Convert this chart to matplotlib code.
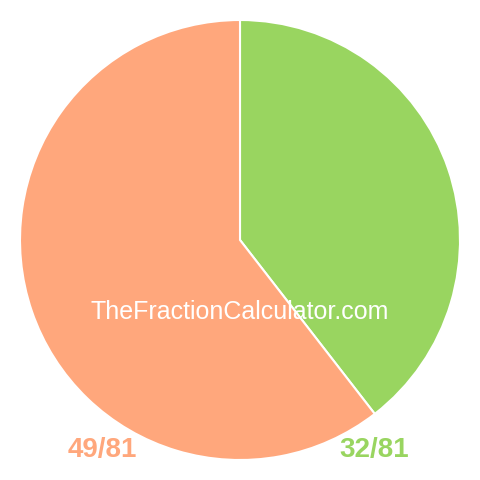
import matplotlib.pyplot as plt

# fractions shown in the pie
labels = ['32/81', '49/81']
values = [32, 49]
colors = ['#99d560', '#ffa77c']

fig = plt.figure(figsize=(4.8, 4.8), dpi=100)
ax = fig.add_axes([0, 0, 1, 1])

ax.pie(values, colors=colors, startangle=90, counterclock=False,
       center=(240, 240), radius=220, frame=True,
       wedgeprops={'edgecolor': 'white', 'linewidth': 1.5})
ax.set_aspect('equal')
ax.axis('off')
ax.set_xlim(0, 480)
ax.set_ylim(0, 480)

ax.text(240, 168, 'TheFractionCalculator.com', color='white', fontsize=18,
        family='Liberation Sans', ha='center', va='center')

ax.text(102, 30, labels[1], color=colors[1], fontsize=20, fontweight='bold',
        family='Liberation Sans', ha='center', va='center')
ax.text(374, 30, labels[0], color=colors[0], fontsize=20, fontweight='bold',
        family='Liberation Sans', ha='center', va='center')

fig.savefig('out.png', dpi=100)
